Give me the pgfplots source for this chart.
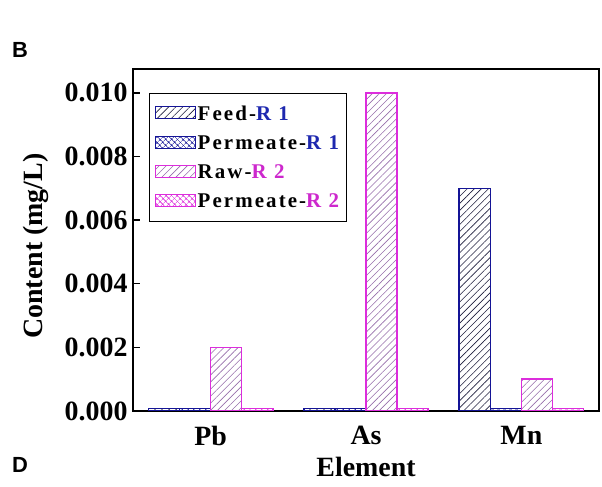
\documentclass[border=0pt]{standalone}
\usepackage{fontspec}
\setmainfont{Liberation Serif}
\newfontfamily\panelfont{Liberation Sans}
\usepackage{pgfplots}
\pgfplotsset{compat=1.18}
\usetikzlibrary{patterns.meta}
\definecolor{rone}{RGB}{20,20,150}
\definecolor{ronetext}{RGB}{30,40,175}
\definecolor{rtwo}{RGB}{220,45,220}
\definecolor{rtwotext}{RGB}{205,40,205}
\definecolor{feedhatch}{RGB}{30,30,60}
\definecolor{rawhatch}{RGB}{150,110,170}
\begin{document}
\begin{tikzpicture}
\path (0bp,0bp) rectangle (602bp,487bp);
\node[anchor=west, inner sep=0pt, font=\panelfont\bfseries\fontsize{22}{24}\selectfont] at (12bp,437bp) {B};
\node[anchor=west, inner sep=0pt, font=\panelfont\bfseries\fontsize{22}{24}\selectfont] at (12bp,22bp) {D};
\begin{axis}[
  at={(133bp,76bp)}, anchor=south west,
  scale only axis, width=466bp, height=342bp,
  xmin=-0.5, xmax=2.5, ymin=0, ymax=0.01075,
  xtick={0,1,2}, xticklabels={Pb,As,Mn},
  ytick={0,0.002,0.004,0.006,0.008,0.010},
  yticklabels={0.000,0.002,0.004,0.006,0.008,0.010},
  scaled y ticks=false,
  xtick style={draw=none},
  ytick style={line width=1.5bp, black},
  major tick length=7bp,
  tick align=inside,
  ytick pos=left,
  axis line style={line width=2.5bp},
  ticklabel style={font=\bfseries\fontsize{28}{30}\selectfont},
  yticklabel style={xshift=-2bp},
  xticklabel style={yshift=-5bp},
  label style={font=\bfseries\fontsize{28}{30}\selectfont},
  xlabel={Element}, ylabel={Content (mg/L)},
  xlabel style={at={(axis description cs:0.5,-0.164)}, anchor=center},
  ylabel style={at={(axis description cs:-0.208,0.482)}, anchor=center},
  ybar, bar width=0.2,
  legend style={at={(0,1)}, anchor=north west, xshift=16bp, yshift=-24bp,
    font=\bfseries\fontsize{21}{24}\selectfont\addfontfeature{LetterSpace=10},
    draw=black, line width=1bp,
    cells={anchor=west}, row sep=10bp, inner xsep=5bp, inner ysep=10bp},
  legend image code/.code={\draw[#1, line width=1.2bp] (0bp,-5bp) rectangle (40bp,7bp);},
]
\addplot[bar shift=-0.3, draw=rone, line width=1.5bp,
  pattern={Lines[angle=45,distance=5pt,line width=0.6pt]}, pattern color=feedhatch]
  coordinates {(0,0.00008) (1,0.00008) (2,0.0070)};
\addlegendentry{Feed-\textcolor{ronetext}{R 1}}
\addplot[bar shift=-0.1, draw=rone, line width=1.5bp,
  pattern={Hatch[angle=45,distance=4pt,line width=0.5pt]}, pattern color=rone]
  coordinates {(0,0.00008) (1,0.00008) (2,0.00008)};
\addlegendentry{Permeate-\textcolor{ronetext}{R 1}}
\addplot[bar shift=0.1, draw=rtwo, line width=1.5bp,
  pattern={Lines[angle=45,distance=5pt,line width=0.6pt]}, pattern color=rawhatch]
  coordinates {(0,0.0020) (1,0.0100) (2,0.0010)};
\addlegendentry{Raw-\textcolor{rtwotext}{R 2}}
\addplot[bar shift=0.3, draw=rtwo, line width=1.5bp,
  pattern={Hatch[angle=45,distance=4pt,line width=0.5pt]}, pattern color=rtwo]
  coordinates {(0,0.00008) (1,0.00008) (2,0.00008)};
\addlegendentry{Permeate-\textcolor{rtwotext}{R 2}}
\end{axis}
\end{tikzpicture}
\end{document}
